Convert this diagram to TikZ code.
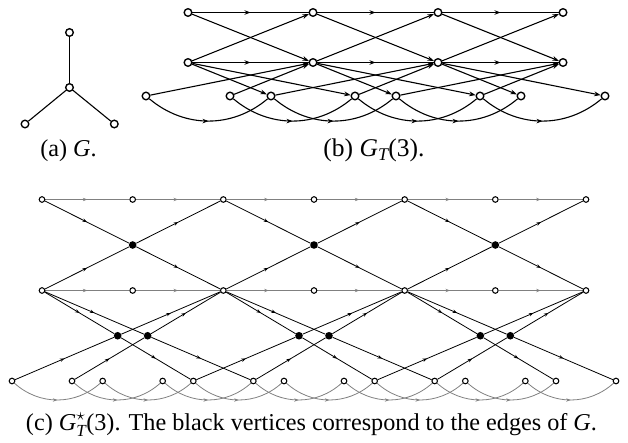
\documentclass[tikz,border=0pt]{standalone}
\usepackage{amsmath}
\usepackage{fontspec}
\setmainfont{Liberation Serif}
\usetikzlibrary{arrows.meta,decorations.markings}
\pgfdeclarelayer{bg}
\pgfsetlayers{bg,main}
\begin{document}
\begin{tikzpicture}[x=1pt,y=1pt,
  vb/.style={circle,draw,fill=white,line width=1.35pt,inner sep=0pt,minimum size=7.6pt},
  vw/.style={circle,draw,fill=white,line width=1.05pt,inner sep=0pt,minimum size=5.6pt},
  vk/.style={circle,fill=black,inner sep=0pt,minimum size=7.6pt},
  eb/.style={line width=1.1pt},
  ek/.style={line width=0.8pt,black},
  eg/.style={line width=0.8pt,black!50},
  midb/.style={postaction={decorate,decoration={markings,mark=at position 0.5 with {\arrow{Stealth[length=6pt,width=4.5pt]}}}}},
  midc/.style={postaction={decorate,decoration={markings,mark=at position 0.5 with {\arrow{Stealth[length=4.5pt,width=3.4pt]}}}}},
  endb/.style={-{Stealth[length=6.5pt,width=4.8pt]}},
  captext/.style={anchor=base,inner sep=0pt,font=\fontsize{24.2}{28}\selectfont}
]
\useasboundingbox (0,0) rectangle (628,-443);

% (a) G
\node[vb] (at) at (69.5,-32.5) {};
\node[vb] (ac) at (69.5,-87.5) {};
\node[vb] (al) at (25,-124) {};
\node[vb] (ar) at (114.3,-124) {};
\begin{pgfonlayer}{bg}
\draw[eb] (at) -- (ac);
\draw[eb] (ac) -- (al);
\draw[eb] (ac) -- (ar);
\end{pgfonlayer}
\node[captext] (capa) at (68.5,-157) {(a) \textit{G}.};

% (b) G_T(3)
\foreach \i in {0,...,3}{
  \pgfmathsetmacro\xx{188+125*\i}
  \node[vb] (bt\i) at (\xx,-12.5) {};
  \node[vb] (bc\i) at (\xx,-62.5) {};
  \node[vb] (bl\i) at (\xx-42,-96) {};
  \node[vb] (br\i) at (\xx+42,-96) {};
}
\begin{pgfonlayer}{bg}
\foreach \i in {0,1,2}{
  \pgfmathtruncatemacro\j{\i+1}
  \draw[eb,midb] (bt\i) -- (bt\j);
  \draw[eb,midb] (bc\i) -- (bc\j);
  \draw[eb,midb] (bl\i) to[bend right=40] (bl\j);
  \draw[eb,midb] (br\i) to[bend right=40] (br\j);
  \draw[eb,endb] (bt\i) -- (bc\j);
  \draw[eb,endb] (bc\i) -- (bt\j);
  \draw[eb,endb] (bc\i) -- (bl\j);
  \draw[eb,endb] (bc\i) -- (br\j);
  \draw[eb,endb] (bl\i) -- (bc\j);
  \draw[eb,endb] (br\i) -- (bc\j);
}
\end{pgfonlayer}
\node[captext,font=\fontsize{25.5}{29}\selectfont] (capb) at (374,-157) {(b) $\textit{G}_{\textit{T}}$(3).};

% (c) G*_T(3)
\foreach \k in {0,...,6}{
  \pgfmathsetmacro\xx{42+544/6*\k}
  \node[vw] (ct\k) at (\xx,-199.5) {};
  \node[vw] (cc\k) at (\xx,-290.5) {};
  \node[vw] (cl\k) at (\xx-30,-381) {};
  \node[vw] (cr\k) at (\xx+30,-381) {};
}
\foreach \k in {1,3,5}{
  \pgfmathsetmacro\xx{42+544/6*\k}
  \node[vk] (ce\k) at (\xx,-245) {};
  \node[vk] (cel\k) at (\xx-15,-335.75) {};
  \node[vk] (cer\k) at (\xx+15,-335.75) {};
}
\begin{pgfonlayer}{bg}
\foreach \k in {0,...,5}{
  \pgfmathtruncatemacro\j{\k+1}
  \draw[eg,midc] (ct\k) -- (ct\j);
  \draw[eg,midc] (cc\k) -- (cc\j);
  \draw[eg,midc] (cl\k) to[bend right=42] (cl\j);
  \draw[eg,midc] (cr\k) to[bend right=42] (cr\j);
}
\foreach \k in {1,3,5}{
  \pgfmathtruncatemacro\a{\k-1}
  \pgfmathtruncatemacro\b{\k+1}
  \draw[ek,midc] (ct\a) -- (ce\k);
  \draw[ek,midc] (ce\k) -- (cc\b);
  \draw[ek,midc] (cc\a) -- (ce\k);
  \draw[ek,midc] (ce\k) -- (ct\b);
  \draw[ek,midc] (cc\a) -- (cel\k);
  \draw[ek,midc] (cel\k) -- (cl\b);
  \draw[ek,midc] (cl\a) -- (cel\k);
  \draw[ek,midc] (cel\k) -- (cc\b);
  \draw[ek,midc] (cc\a) -- (cer\k);
  \draw[ek,midc] (cer\k) -- (cr\b);
  \draw[ek,midc] (cr\a) -- (cer\k);
  \draw[ek,midc] (cer\k) -- (cc\b);
}
\end{pgfonlayer}
\node[captext] (capc) at (311.5,-430) {(c) $\textit{G}^{\star}_{\textit{T}}$(3). The black vertices correspond to the edges of \textit{G}.};
\end{tikzpicture}
\end{document}
